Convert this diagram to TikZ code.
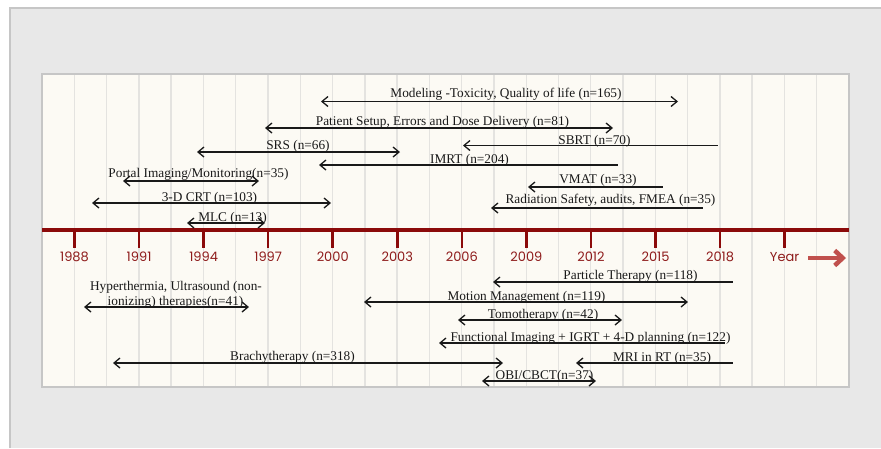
\documentclass[tikz,border=0pt]{standalone}
\usepackage{fontspec}
\setmainfont{Liberation Serif}
\newfontfamily\yearfont{Poppins}
\usetikzlibrary{arrows.meta}
\definecolor{outerbg}{HTML}{E8E8E8}
\definecolor{frameline}{HTML}{C6C6C6}
\definecolor{panelbg}{HTML}{FCFAF4}
\definecolor{gridline}{HTML}{E4E3E0}
\definecolor{axisred}{HTML}{8B0A0A}
\definecolor{yeartext}{HTML}{8E1B1B}
\definecolor{arrowred}{HTML}{C0504D}
\begin{document}
\begin{tikzpicture}[x=1pt,y=-1pt,
  lbl/.style={font=\fontsize{13.3}{15}\selectfont, inner sep=0pt, anchor=base, text=black!90},
  span/.style={line width=1.3pt, black!90, {Straight Barb[length=6pt,width=10pt]}-{Straight Barb[length=6pt,width=10pt]}},
  lspan/.style={line width=1.3pt, black!90, {Straight Barb[length=6pt,width=10pt]}-},
  yr/.style={font=\yearfont\fontsize{13}{15}\selectfont, text=yeartext, inner sep=0pt, anchor=base},
  tickmark/.style={line width=2.6pt, axisred},
]
\useasboundingbox (0,0) rectangle (881,448);
\fill[white] (0,0) rectangle (881,448);
% outer frame
\fill[outerbg] (10,8) rectangle (881,448);
\draw[frameline, line width=1.5pt] (10,448) -- (10,8) -- (881,8);
% inner panel
\fill[panelbg] (42,74) rectangle (849,387);
\foreach \k in {1,...,24} {
  \draw[gridline, line width=1.4pt] ({42+32.28*\k},74) -- ({42+32.28*\k},387);
}
\draw[frameline, line width=1.5pt] (42,74) rectangle (849,387);

% axis
\coordinate (axL) at (42,230);
\coordinate (axR) at (849,230);
\draw[axisred, line width=4pt] (axL) -- (axR);
\foreach \yy in {1988,1991,...,2018} {
  \pgfmathsetmacro{\xx}{74.5+(\yy-1988)*21.52}
  \coordinate (tk\yy a) at (\xx,229);
  \coordinate (tk\yy b) at (\xx,248);
  \draw[tickmark] (tk\yy a) -- (tk\yy b);
  \node[yr] (y\yy) at (\xx,261.7) {\yy};
}
\coordinate (tkYa) at (784.6,229);
\coordinate (tkYb) at (784.6,248);
\draw[tickmark] (tkYa) -- (tkYb);
\node[yr] (yYear) at (784.6,261.7) {Year};
\coordinate (rA) at (808,258);
\coordinate (rB) at (846,258);
\draw[arrowred, line width=4.5pt, -{Straight Barb[length=8pt,width=15pt]}] (rA) -- (rB);

% ---- upper spans ----
\node[lbl] (tModel) at (506,97.3) {Modeling -Toxicity, Quality of life (n=165)};
\coordinate (aModelL) at (321,101.5); \coordinate (aModelR) at (678,101.5);
\draw[span] (aModelL) -- (aModelR);

\node[lbl] (tPatient) at (442.5,125) {Patient Setup, Errors and Dose Delivery (n=81)};
\coordinate (aPatL) at (265,128); \coordinate (aPatR) at (613,128);
\draw[span] (aPatL) -- (aPatR);

\node[lbl] (tSRS) at (298,149.3) {SRS (n=66)};
\coordinate (aSRSL) at (197,152); \coordinate (aSRSR) at (400,152);
\draw[span] (aSRSL) -- (aSRSR);

\node[lbl] (tSBRT) at (594.5,144.3) {SBRT (n=70)};
\coordinate (aSBRTL) at (463,145.5); \coordinate (aSBRTR) at (718,145.5);
\draw[lspan] (aSBRTL) -- (aSBRTR);

\node[lbl] (tIMRT) at (469.5,163.3) {IMRT (n=204)};
\coordinate (aIMRTL) at (319,165); \coordinate (aIMRTR) at (618,165);
\draw[lspan] (aIMRTL) -- (aIMRTR);

\node[lbl] (tPortal) at (198.5,177.3) {Portal Imaging/Monitoring(n=35)};
\coordinate (aPortL) at (123,181); \coordinate (aPortR) at (259,181);
\draw[span] (aPortL) -- (aPortR);

\node[lbl] (tVMAT) at (598,183.3) {VMAT (n=33)};
\coordinate (aVMATL) at (528,187); \coordinate (aVMATR) at (663,187);
\draw[lspan] (aVMATL) -- (aVMATR);

\node[lbl] (tCRT) at (209.5,201.7) {3-D CRT (n=103)};
\coordinate (aCRTL) at (92,203); \coordinate (aCRTR) at (331,203);
\draw[span] (aCRTL) -- (aCRTR);

\node[lbl] (tRad) at (610.5,203.3) {Radiation Safety, audits, FMEA (n=35)};
\coordinate (aRadL) at (491,208); \coordinate (aRadR) at (703,208);
\draw[lspan] (aRadL) -- (aRadR);

\node[lbl] (tMLC) at (232.5,221) {MLC (n=13)};
\coordinate (aMLCL) at (187,223); \coordinate (aMLCR) at (265,223);
\draw[span] (aMLCL) -- (aMLCR);

% ---- lower spans ----
\node[lbl] (tPart) at (630.5,279.3) {Particle Therapy (n=118)};
\coordinate (aPartL) at (493,282); \coordinate (aPartR) at (733,282);
\draw[lspan] (aPartL) -- (aPartR);

\node[lbl] (tHyp1) at (176,290) {Hyperthermia, Ultrasound (non-};
\node[lbl] (tHyp2) at (175.5,305) {ionizing) therapies(n=41)};
\coordinate (aHypL) at (84,307); \coordinate (aHypR) at (249,307);
\draw[span] (aHypL) -- (aHypR);

\node[lbl] (tMotion) at (526.5,300) {Motion Management (n=119)};
\coordinate (aMotL) at (364,302); \coordinate (aMotR) at (688,302);
\draw[span] (aMotL) -- (aMotR);

\node[lbl] (tTomo) at (543,318.3) {Tomotherapy (n=42)};
\coordinate (aTomoL) at (458,320); \coordinate (aTomoR) at (622,320);
\draw[span] (aTomoL) -- (aTomoR);

\node[lbl] (tFunc) at (590.5,341.7) {Functional Imaging + IGRT + 4-D planning (n=122)};
\coordinate (aFuncL) at (439,343); \coordinate (aFuncR) at (725,343);
\draw[lspan] (aFuncL) -- (aFuncR);

\node[lbl] (tBrachy) at (292.5,360) {Brachytherapy (n=318)};
\coordinate (aBraL) at (113,363); \coordinate (aBraR) at (503,363);
\draw[span] (aBraL) -- (aBraR);

\node[lbl] (tMRI) at (662,361) {MRI in RT (n=35)};
\coordinate (aMRIL) at (576,363); \coordinate (aMRIR) at (733,363);
\draw[lspan] (aMRIL) -- (aMRIR);

\node[lbl] (tOBI) at (544.5,379.3) {OBI/CBCT(n=37)};
\coordinate (aOBIL) at (482,381); \coordinate (aOBIR) at (596,381);
\draw[span] (aOBIL) -- (aOBIR);
\end{tikzpicture}
\end{document}
